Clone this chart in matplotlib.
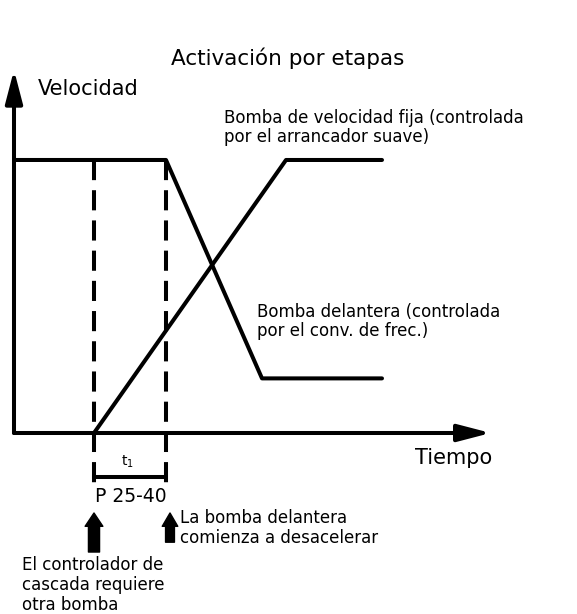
import matplotlib.pyplot as plt

# tiempo (unidades arbitrarias) y velocidad (%)
t_delantera = [0, 10, 19, 31, 46]
v_delantera = [100, 100, 100, 20, 20]

t_fija = [10, 34, 46]
v_fija = [0, 100, 100]

t_eventos = [10, 19]          # P 25-40 y comienzo de desaceleracion
v_alta = 100

titulo = 'Activación por etapas'
eje_y = 'Velocidad'
eje_x = 'Tiempo'
txt_fija = 'Bomba de velocidad fija (controlada\npor el arrancador suave)'
txt_delantera = 'Bomba delantera (controlada\npor el conv. de frec.)'
txt_param = 'P 25-40'
txt_desacel = 'La bomba delantera\ncomienza a desacelerar'
txt_cascada = 'El controlador de\ncascada requiere\notra bomba'

fig = plt.figure(figsize=(5.77, 6.14), dpi=100)
ax = fig.add_axes([0, 0, 1, 1])
ax.set_xlim(-1.75, 70.375)
ax.set_ylim(-66.3, 158.6)
ax.axis('off')

lw = 2.9
ax.plot(t_delantera, v_delantera, color='black', lw=lw, solid_capstyle='round')
ax.plot(t_fija, v_fija, color='black', lw=lw, solid_capstyle='round')

for t in t_eventos:
    ax.plot([t, t], [v_alta, -18.3], color='black', lw=lw, linestyle=(0, (5, 2.5)))

# ejes con flechas
flecha = dict(arrowstyle='-|>,head_length=1.0,head_width=0.26',
              mutation_scale=20, lw=lw, color='black', shrinkA=0, shrinkB=0)
ax.annotate('', xy=(0, 133.0), xytext=(0, 0), arrowprops=flecha)
ax.annotate('', xy=(59.6, 0), xytext=(0, 0), arrowprops=flecha)

# intervalo t1
ax.plot(t_eventos, [-16.1, -16.1], color='black', lw=lw)
ax.text(14.2, -10.6, r'$\mathregular{t_1}$', fontsize=10, ha='center', va='center')

ax.text(34.25, 137.4, titulo, fontsize=15.5, ha='center', va='center')
ax.text(3.0, 126.0, eje_y, fontsize=15, ha='left', va='center')
ax.text(50.1, -9.2, eje_x, fontsize=15, ha='left', va='center')
ax.text(26.2, 112.0, txt_fija, fontsize=12, ha='left', va='center', linespacing=1.08)
ax.text(30.4, 41.0, txt_delantera, fontsize=12, ha='left', va='center', linespacing=1.08)
ax.text(14.6, -23.1, txt_param, fontsize=13.5, ha='center', va='center')
ax.text(20.8, -34.8, txt_desacel, fontsize=12, ha='left', va='center', linespacing=1.15)
ax.text(1.0, -55.8, txt_cascada, fontsize=12, ha='left', va='center', linespacing=1.15)

# flechas hacia arriba
ax.annotate('', xy=(10, -29.3), xytext=(10, -43.6),
            arrowprops=dict(arrowstyle='simple,head_length=0.6,head_width=0.8,tail_width=0.5',
                            mutation_scale=16, color='black', shrinkA=0, shrinkB=0))
ax.annotate('', xy=(19.5, -29.3), xytext=(19.5, -40.0),
            arrowprops=dict(arrowstyle='simple,head_length=0.6,head_width=0.7,tail_width=0.4',
                            mutation_scale=16, color='black', shrinkA=0, shrinkB=0))

fig.savefig('out.png', dpi=100)
